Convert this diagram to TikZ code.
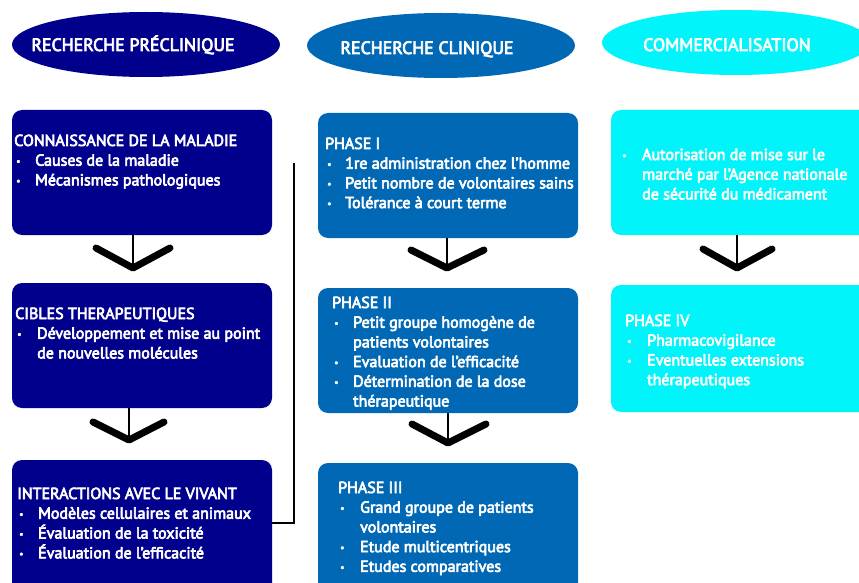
\documentclass[tikz,border=0pt]{standalone}
\usepackage{fontspec}
\setmainfont{PT Sans}[RawFeature={embolden=4}]
\usetikzlibrary{shapes.geometric}
\definecolor{navyc}{RGB}{0,0,140}
\definecolor{bluec}{RGB}{0,104,180}
\definecolor{cyanc}{RGB}{0,245,250}
\newlength\bw
\newcommand\bu{\makebox[\bw][l]{\hspace{2pt}\raisebox{0.15ex}{\scalebox{0.6}{\textbullet}}}}
\newcommand\ind{\hspace{\bw}}
\tikzset{
  box/.style={rectangle, rounded corners=10pt, inner sep=0pt, draw=none, minimum width=260pt, minimum height=125pt},
  oval/.style={ellipse, inner sep=0pt, draw=none, minimum width=268pt, minimum height=65pt},
  txt/.style={text=white, inner sep=0pt, anchor=base west, font=\fontsize{16}{19.7}\selectfont},
  head/.style={text=white, inner sep=0pt, anchor=base, font=\fontsize{17.8}{20}\selectfont},
  chev/.style={line width=7pt, line cap=round, line join=round},
  stem/.style={line width=1.3pt},
}
\begin{document}
\begin{tikzpicture}[x=1pt,y=-1pt]
\clip (0,0) rectangle (859,583);
\fill[white] (0,0) rectangle (859,583);
% ellipses
\node[oval, fill=navyc] (e1) at (146,44.5) {};
\node[oval, fill=bluec] (e2) at (441,45.5) {};
\node[oval, fill=cyanc] (e3) at (736,42.5) {};
\node[head] (h1) at (133,51) {RECHERCHE PRÉCLINIQUE};
\node[head] (h2) at (427,54) {RECHERCHE CLINIQUE};
\node[head] (h3) at (727,51) {COMMERCIALISATION};
% boxes
\node[box, fill=navyc] (c1b1) at (142,172.5) {};
\node[box, fill=navyc] (c1b2) at (142,345.5) {};
\node[box, fill=navyc, minimum height=135pt] (c1b3) at (142,527.5) {};
\node[box, fill=bluec] (c2b1) at (448,175.5) {};
\node[box, fill=bluec] (c2b2) at (448,350.5) {};
\node[box, fill=bluec, minimum height=135pt] (c2b3) at (448,530.5) {};
\node[box, fill=cyanc] (c3b1) at (741,172.5) {};
\node[box, fill=cyanc, minimum height=127pt] (c3b2) at (741,348.5) {};
% texts
\node[txt] (t11) at (14,146) {\setlength\bw{21pt}\begin{tabular}[t]{@{}l@{}}
CONNAISSANCE DE LA MALADIE\\
\bu Causes de la maladie\\
\bu Mécanismes pathologiques
\end{tabular}};
\node[txt] (t12) at (15,319) {\setlength\bw{22pt}\begin{tabular}[t]{@{}l@{}}
CIBLES THERAPEUTIQUES\\
\bu Développement et mise au point\\
\ind de nouvelles molécules
\end{tabular}};
\node[txt] (t13) at (17,499) {\setlength\bw{21pt}\begin{tabular}[t]{@{}l@{}}
INTERACTIONS AVEC LE VIVANT\\
\bu Modèles cellulaires et animaux\\
\bu Évaluation de la toxicité\\
\bu Évaluation de l’efficacité
\end{tabular}};
\node[txt] (t21) at (325,149) {\setlength\bw{20pt}\begin{tabular}[t]{@{}l@{}}
PHASE I\\
\bu 1re administration chez l’homme\\
\bu Petit nombre de volontaires sains\\
\bu Tolérance à court terme
\end{tabular}};
\node[txt] (t22) at (332,308) {\setlength\bw{21pt}\begin{tabular}[t]{@{}l@{}}
PHASE II\\
\bu Petit groupe homogène de\\
\ind patients volontaires\\
\bu Evaluation de l’efficacité\\
\bu Détermination de la dose\\
\ind thérapeutique
\end{tabular}};
\node[txt] (t23) at (338,493) {\setlength\bw{22pt}\begin{tabular}[t]{@{}l@{}}
PHASE III\\
\bu Grand groupe de patients\\
\ind volontaires\\
\bu Etude multicentriques\\
\bu Etudes comparatives
\end{tabular}};
\node[txt] (t31) at (620,160) {\setlength\bw{22pt}\begin{tabular}[t]{@{}l@{}}
\bu Autorisation de mise sur le\\
\ind marché par l’Agence nationale\\
\ind de sécurité du médicament
\end{tabular}};
\node[txt] (t32) at (625,326) {\setlength\bw{22pt}\begin{tabular}[t]{@{}l@{}}
PHASE IV\\
\bu Pharmacovigilance\\
\bu Eventuelles extensions\\
\ind thérapeutiques
\end{tabular}};
% arrows
\coordinate (s11) at (133,235);
\coordinate (v11) at (133,268);
\draw[stem] (s11) -- (v11);
\draw[chev] (96,248) -- (v11) -- (170,248);
\coordinate (s12) at (129,408);
\coordinate (v12) at (129,440);
\draw[stem] (s12) -- (v12);
\draw[chev] (93,422) -- (v12) -- (164,422);
\coordinate (s21) at (447,238);
\coordinate (v21) at (447,268);
\draw[stem] (s21) -- (v21);
\draw[chev] (411,250) -- (v21) -- (484,250);
\coordinate (s22) at (448,413);
\coordinate (v22) at (448,443);
\draw[stem] (s22) -- (v22);
\draw[chev] (412,424) -- (v22) -- (486,424);
\coordinate (s31) at (737,235);
\coordinate (v31) at (737,268);
\draw[stem] (s31) -- (v31);
\draw[chev] (703,249) -- (v31) -- (772,249);
% bracket
\coordinate (brtop) at (294,163);
\coordinate (brend) at (272,523);
\draw[line width=2.2pt] (brtop) |- (brend);
\end{tikzpicture}
\end{document}
